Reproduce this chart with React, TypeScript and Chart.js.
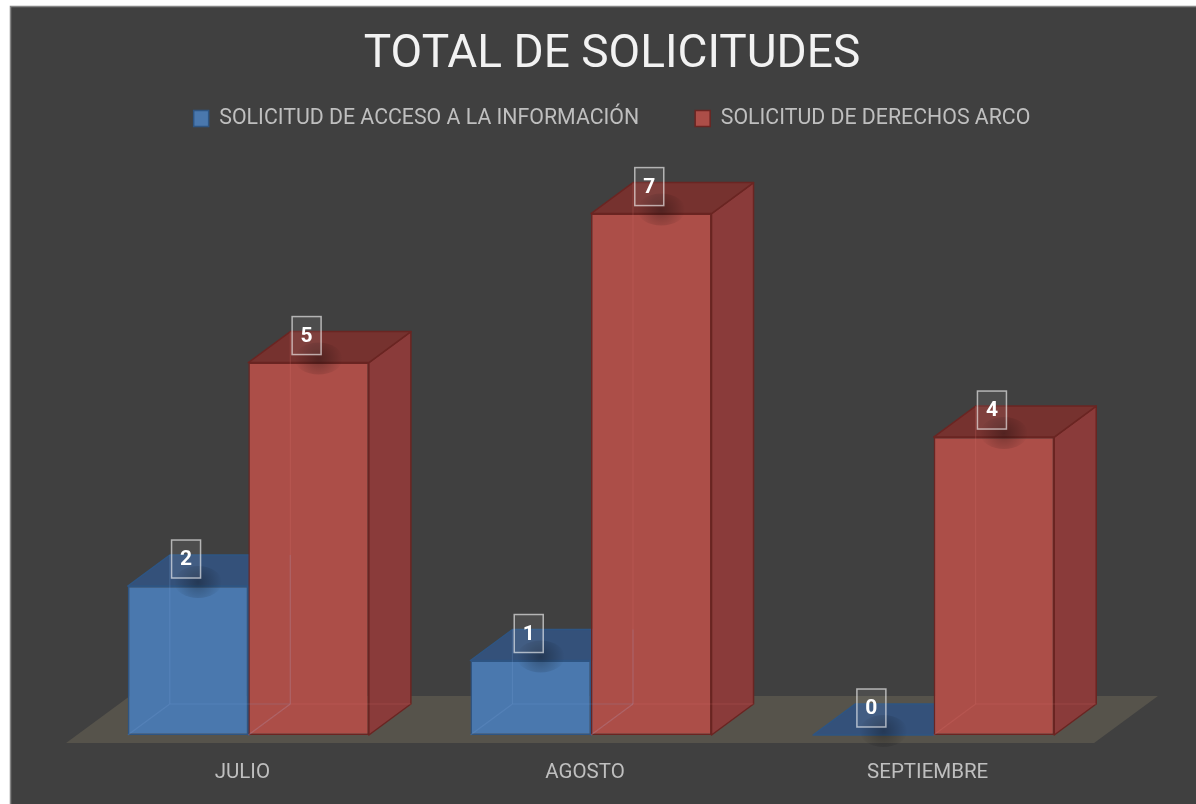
import React, { useEffect, useRef } from 'react';
import { Chart, registerables } from 'chart.js';

Chart.register(...registerables);

// ---- data ----
const categories = ['JULIO', 'AGOSTO', 'SEPTIEMBRE'];
const seriesNames = ['SOLICITUD DE ACCESO A LA INFORMACIÓN', 'SOLICITUD DE DERECHOS ARCO'];
const accesoValues = [2, 1, 0];
const arcoValues = [5, 7, 4];
const titleText = 'TOTAL DE SOLICITUDES';
const yMin = 0;
const yMax = 8;

// ---- styles ----
const FACES = [
  { front: '#4A78AE', top: '#34517A', side: '#3C6090', edge: '#2E5583', ghost: 'rgba(125,165,220,0.2)' },
  { front: '#AC4E48', top: '#76322F', side: '#8A3B3A', edge: '#6A2522', ghost: 'rgba(220,115,110,0.22)' },
];
const DX = 42;
const DY = 31;
const FONT = 'Roboto';

function poly(ctx: CanvasRenderingContext2D, pts: number[][], fill?: string, stroke?: string, lw = 1) {
  ctx.beginPath();
  ctx.moveTo(pts[0][0], pts[0][1]);
  for (let i = 1; i < pts.length; i++) ctx.lineTo(pts[i][0], pts[i][1]);
  ctx.closePath();
  if (fill) {
    ctx.fillStyle = fill;
    ctx.fill();
  }
  if (stroke) {
    ctx.strokeStyle = stroke;
    ctx.lineWidth = lw;
    ctx.lineJoin = 'round';
    ctx.stroke();
  }
}

function line(ctx: CanvasRenderingContext2D, a: number[], b: number[]) {
  ctx.beginPath();
  ctx.moveTo(a[0], a[1]);
  ctx.lineTo(b[0], b[1]);
  ctx.stroke();
}

const panelPlugin = {
  id: 'panel',
  beforeDraw(chart: any) {
    const { ctx, width, height } = chart;
    ctx.save();
    ctx.fillStyle = '#ffffff';
    ctx.fillRect(0, 0, width, height);
    ctx.fillStyle = '#404040';
    ctx.fillRect(10, 6, width - 10, height - 6);
    ctx.strokeStyle = '#858585';
    ctx.lineWidth = 1.5;
    ctx.beginPath();
    ctx.moveTo(10.5, height);
    ctx.lineTo(10.5, 6.5);
    ctx.lineTo(width, 6.5);
    ctx.stroke();
    ctx.restore();
  },
};

function barGeom(chart: any, d: number, i: number) {
  const el = chart.getDatasetMeta(d).data[i];
  const p = el.getProps(['x', 'y', 'base', 'width'], true);
  return { x0: p.x - p.width / 2, x1: p.x + p.width / 2, x: p.x, t: p.y, b: p.base };
}

const boxPlugin = {
  id: 'box3d',
  beforeDatasetsDraw(chart: any) {
    const { ctx, chartArea } = chart;
    const base = chart.scales.y.getPixelForValue(0);
    ctx.save();
    // floor
    const fF = 0.26, fB = 1.26;
    poly(ctx, [
      [chartArea.left - fF * DX, base + fF * DY],
      [chartArea.right - fF * DX, base + fF * DY],
      [chartArea.right + fB * DX, base - fB * DY],
      [chartArea.left + fB * DX, base - fB * DY],
    ], '#56534B');
    // side + top faces
    for (let i = 0; i < categories.length; i++) {
      for (let d = 0; d < chart.data.datasets.length; d++) {
        const f = FACES[d];
        const g = barGeom(chart, d, i);
        if (g.b - g.t > 0.5) {
          poly(ctx, [[g.x1, g.t], [g.x1 + DX, g.t - DY], [g.x1 + DX, g.b - DY], [g.x1, g.b]], f.side, f.edge, 1.5);
        }
        poly(ctx, [[g.x0, g.t], [g.x1, g.t], [g.x1 + DX, g.t - DY], [g.x0 + DX, g.t - DY]], f.top, f.edge, 1.5);
      }
    }
    ctx.restore();
  },
  afterDatasetsDraw(chart: any) {
    const { ctx } = chart;
    ctx.save();
    // see-through back edges
    for (let i = 0; i < categories.length; i++) {
      for (let d = 0; d < chart.data.datasets.length; d++) {
        const f = FACES[d];
        const g = barGeom(chart, d, i);
        if (g.b - g.t < 0.5) continue;
        ctx.strokeStyle = f.ghost;
        ctx.lineWidth = 1.2;
        const bl = [g.x0 + DX, g.b - DY];
        const br = [g.x1 + DX, g.b - DY];
        line(ctx, bl, [g.x0, g.b]);
        line(ctx, bl, br);
        line(ctx, bl, [g.x0 + DX, g.t - DY]);
        if (d === 0) {
          line(ctx, br, [g.x1, g.b]);
          line(ctx, br, [g.x1 + DX, g.t - DY]);
        }
      }
    }
    // labels
    const values = chart.data.datasets.map((ds: any) => ds.data);
    for (let i = 0; i < categories.length; i++) {
      for (let d = 0; d < chart.data.datasets.length; d++) {
        const g = barGeom(chart, d, i);
        const cx = g.x - 2;
        const cy = g.t - 27;
        // soft shadow on the top face
        const sx = g.x + 10, sy = g.t - 4;
        const grad = ctx.createRadialGradient(sx, sy, 0, sx, sy, 24);
        grad.addColorStop(0, 'rgba(0,0,0,0.3)');
        grad.addColorStop(1, 'rgba(0,0,0,0)');
        ctx.fillStyle = grad;
        ctx.beginPath();
        ctx.ellipse(sx, sy, 24, 16, 0, 0, Math.PI * 2);
        ctx.fill();
        // box
        const w = 29, h = 38;
        ctx.fillStyle = 'rgba(255,255,255,0.07)';
        ctx.fillRect(cx - w / 2, cy - h / 2, w, h);
        ctx.strokeStyle = 'rgba(255,255,255,0.6)';
        ctx.lineWidth = 1.5;
        ctx.strokeRect(cx - w / 2, cy - h / 2, w, h);
        ctx.fillStyle = '#FFFFFF';
        ctx.font = `bold 21px ${FONT}`;
        ctx.textAlign = 'center';
        ctx.textBaseline = 'middle';
        ctx.fillText(String(values[d][i]), cx, cy + 1);
      }
    }
    ctx.restore();
  },
};

export default function App() {
  const ref = useRef<HTMLCanvasElement>(null);
  useEffect(() => {
    const chart = new Chart(ref.current as HTMLCanvasElement, {
      type: 'bar',
      data: {
        labels: categories,
        datasets: [
          {
            label: seriesNames[0],
            data: accesoValues,
            backgroundColor: FACES[0].front,
            borderColor: FACES[0].edge,
            borderWidth: 1.5,
            borderSkipped: false,
            barPercentage: 1,
            categoryPercentage: 0.7036,
            yAxisID: 'y',
          },
          {
            label: seriesNames[1],
            data: arcoValues,
            backgroundColor: FACES[1].front,
            borderColor: FACES[1].edge,
            borderWidth: 1.5,
            borderSkipped: false,
            barPercentage: 1,
            categoryPercentage: 0.7036,
            yAxisID: 'y',
          },
        ],
      },
      options: {
        responsive: true,
        maintainAspectRatio: false,
        animation: false,
        events: [],
        layout: { padding: { left: 28, right: 0, top: 0, bottom: 0 } },
        plugins: {
          title: {
            display: true,
            text: titleText,
            color: '#F2F2F2',
            font: { family: FONT, size: 46, weight: 'normal', lineHeight: 1.2 },
            padding: { top: 27.5, bottom: -30.9 },
          },
          legend: {
            display: true,
            position: 'top',
            labels: {
              color: '#BFBFBF',
              font: { family: FONT, size: 21.3 },
              boxWidth: 15,
              boxHeight: 16,
              padding: 56,
            },
          },
          tooltip: { enabled: false },
        },
        scales: {
          x: {
            type: 'category',
            grid: { display: false, drawTicks: false },
            border: { display: false },
            ticks: {
              color: '#BFBFBF',
              font: { family: FONT, size: 20.5 },
              padding: 26,
              labelOffset: -6,
              maxRotation: 0,
            },
            afterFit: (s: any) => {
              s.height = 69;
            },
          },
          y: {
            type: 'linear',
            position: 'left',
            min: yMin,
            max: yMax,
            grid: { display: false, drawTicks: false },
            border: { display: false },
            ticks: { display: false },
            afterFit: (s: any) => {
              s.width = 49;
            },
          },
          yR: {
            type: 'linear',
            axis: 'y',
            position: 'right',
            grid: { display: false, drawTicks: false },
            border: { display: false },
            ticks: { display: false },
            afterFit: (s: any) => {
              s.width = 91;
            },
          },
        },
      } as any,
      plugins: [panelPlugin, boxPlugin],
    });
    return () => chart.destroy();
  }, []);
  return (
    <div style={{ position: 'fixed', left: 0, top: 0, width: 1196, height: 804 }}>
      <canvas ref={ref} />
    </div>
  );
}
